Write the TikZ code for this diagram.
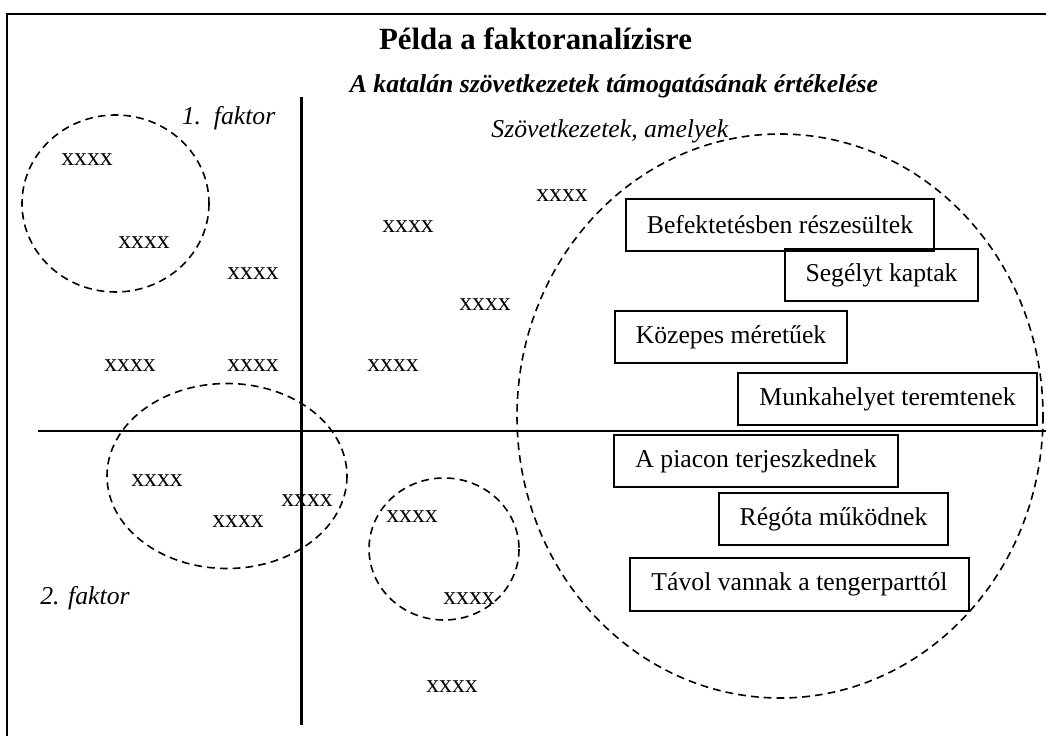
\documentclass[tikz,border=0pt]{standalone}
\usepackage{fontspec}
\setmainfont{Liberation Serif}
\begin{document}
\begin{tikzpicture}[x=0.467pt,y=-0.467pt,
  solid line/.style={line width=0.95pt},
  group/.style={dashed,line width=0.75pt,dash pattern=on 3.6pt off 2.4pt},
  item/.style={anchor=base,inner sep=0pt,font=\fontsize{12}{14}\selectfont},
  itbox/.style={draw,line width=0.95pt,inner sep=0pt,font=\fontsize{12}{14}\selectfont,
    minimum height={52*0.467pt}},
  axislabel/.style={anchor=base,inner sep=0pt,font=\fontsize{12}{14}\selectfont\itshape}]
\useasboundingbox (0,0) rectangle (1046,736);
\fill[white] (0,0) rectangle (1046,736);
% frame (extends past the right and bottom edges)
\coordinate (fr1) at (7,760);
\coordinate (fr2) at (7,14);
\coordinate (fr3) at (1070,14);
\draw[solid line] (fr1) -- (fr2) -- (fr3);
% axes
\coordinate (vtop) at (301.5,97);
\coordinate (vbot) at (301.5,725);
\coordinate (hleft) at (38,431);
\coordinate (hright) at (1070,431);
\draw[solid line] (vtop) -- (vbot);
\draw[solid line] (hleft) -- (hright);
% titles
\node[anchor=base,inner sep=0pt,font=\fontsize{14.4}{16}\selectfont\bfseries] (title) at (535.5,50) {Példa a faktoranalízisre};
\node[anchor=base,inner sep=0pt,font=\fontsize{12}{14}\selectfont\bfseries\itshape] (sub) at (614,93) {A katalán szövetkezetek támogatásának értékelése};
\node[axislabel] (f1) at (228.5,125) {1.\ \ faktor};
\node[axislabel] (f2) at (85,604) {2. faktor};
\node[axislabel,anchor=base west] (szov) at (491,138) {Szövetkezetek, amelyek};
% dashed groups
\draw[group] (115.5,203.5) ellipse [x radius=93.5,y radius=88.5];
\draw[group] (227,476) ellipse [x radius=120,y radius=92.5];
\draw[group] (444,549) ellipse [x radius=75,y radius=71];
\draw[group] (780,416) ellipse [x radius=263,y radius=282];
% scattered items
\node[item] (x1) at (87,166) {xxxx};
\node[item] (x2) at (144,249) {xxxx};
\node[item] (x3) at (253,280) {xxxx};
\node[item] (x4) at (408,233) {xxxx};
\node[item] (x5) at (562,202) {xxxx};
\node[item] (x6) at (485,311) {xxxx};
\node[item] (x7) at (130,372) {xxxx};
\node[item] (x8) at (253,372) {xxxx};
\node[item] (x9) at (393,372) {xxxx};
\node[item] (x10) at (157,486) {xxxx};
\node[item] (x11) at (238,527) {xxxx};
\node[item] (x12) at (307,506) {xxxx};
\node[item] (x13) at (412,522) {xxxx};
\node[item] (x14) at (469,604) {xxxx};
\node[item] (x15) at (452,692) {xxxx};
% boxes
\node[itbox,minimum width={308*0.467pt}] (b1) at (780,225) {Befektetésben részesültek};
\node[itbox,minimum width={193*0.467pt}] (b2) at (881.5,275) {Segélyt kaptak};
\node[itbox,minimum width={232*0.467pt}] (b3) at (731,337) {Közepes méretűek};
\node[itbox,minimum width={299*0.467pt}] (b4) at (887.5,399) {Munkahelyet teremtenek};
\node[itbox,minimum width={284*0.467pt}] (b5) at (756,461) {A piacon terjeszkednek};
\node[itbox,minimum width={229*0.467pt}] (b6) at (833.5,519) {Régóta működnek};
\node[itbox,minimum width={339*0.467pt},minimum height={53*0.467pt}] (b7) at (799.5,584.5) {Távol vannak a tengerparttól};
\end{tikzpicture}
\end{document}
